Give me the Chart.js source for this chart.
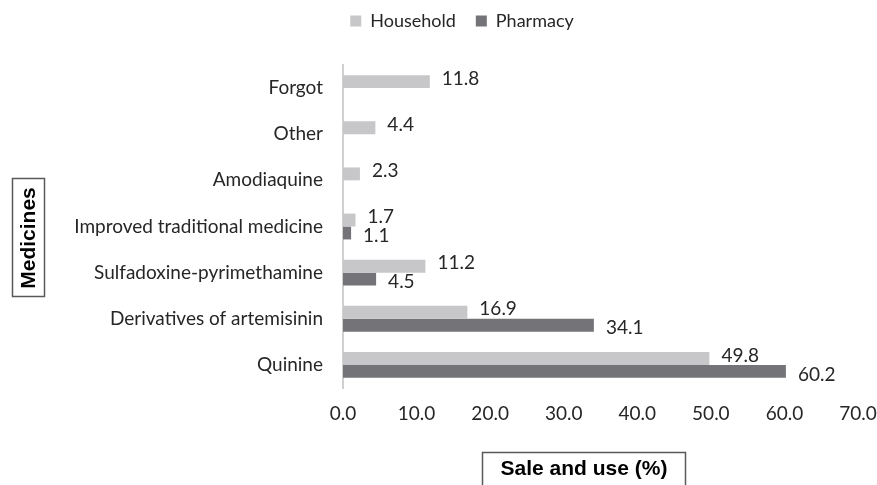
<!DOCTYPE html>
<html>
<head>
<meta charset="utf-8">
<script src="https://cdn.jsdelivr.net/npm/chart.js@4.4.1/dist/chart.umd.min.js"></script>
<style>
  html, body { margin: 0; padding: 0; background: #fff; }
  #wrap { width: 877px; height: 485px; position: relative; }
</style>
</head>
<body>
<div id="wrap"><canvas id="chart"></canvas></div>
<script>
const categories = [
  "Forgot",
  "Other",
  "Amodiaquine",
  "Improved traditional medicine",
  "Sulfadoxine-pyrimethamine",
  "Derivatives of artemisinin",
  "Quinine"
]
const household = [11.8, 4.4, 2.3, 1.7, 11.2, 16.9, 49.8]
const pharmacy = [null, null, null, 1.1, 4.5, 34.1, 60.2]
const xTicks = [0, 10, 20, 30, 40, 50, 60, 70]

const family = "Lato, 'Open Sans', sans-serif"
const labelFont = "19px " + family

// value labels at the end of each bar
const valueLabels = {
  id: "valueLabels",
  afterDatasetsDraw(chart) {
    const { ctx } = chart
    ctx.save()
    ctx.font = labelFont
    ctx.fillStyle = "#262626"
    ctx.textAlign = "left"
    ctx.textBaseline = "middle"
    chart.data.datasets.forEach((ds, i) => {
      chart.getDatasetMeta(i).data.forEach((bar, j) => {
        const v = ds.data[j]
        if (v == null) return
        const dy = i === 0 ? -3 : 3
        ctx.fillText(v.toFixed(1), bar.x + 12, bar.y + dy)
      })
    })
    ctx.restore()
  }
}

// boxed axis titles like the original
const boxedTitles = {
  id: "boxedTitles",
  afterDraw(chart) {
    const { ctx } = chart
    ctx.save()
    ctx.strokeStyle = "#595959"
    ctx.lineWidth = 1.5
    ctx.fillStyle = "#000"
    ctx.font = "bold 21px 'Liberation Sans', Arial, sans-serif"
    ctx.textAlign = "center"
    ctx.textBaseline = "middle"

    ctx.strokeRect(482.5, 452.5, 203, 40)
    ctx.fillText("Sale and use (%)", 584, 469)

    ctx.strokeRect(12.5, 178.5, 32, 118)
    ctx.translate(29, 238)
    ctx.rotate(-Math.PI / 2)
    ctx.fillText("Medicines", 0, 0)
    ctx.restore()
  }
}

// extra space under the legend, and legend nudged right like the original
const legendMargin = {
  id: "legendMargin",
  beforeInit(chart) {
    const fit = chart.legend.fit
    chart.legend.fit = function () {
      fit.bind(chart.legend)()
      this.height += 25
    }
  },
  afterLayout(chart) {
    chart.legend.left += 33
    chart.legend.right += 33
  }
}

new Chart(document.getElementById("chart"), {
  type: "bar",
  data: {
    labels: categories,
    datasets: [
      {
        label: "Household",
        data: household,
        backgroundColor: "#c7c7c9",
        barPercentage: 1,
        categoryPercentage: 0.56
      },
      {
        label: "Pharmacy",
        data: pharmacy,
        backgroundColor: "#747478",
        barPercentage: 1,
        categoryPercentage: 0.56
      }
    ]
  },
  options: {
    indexAxis: "y",
    responsive: true,
    maintainAspectRatio: false,
    animation: false,
    layout: {
      padding: { left: 0, right: 19, top: -8, bottom: 0 }
    },
    plugins: {
      legend: {
        position: "top",
        labels: {
          boxWidth: 11,
          boxHeight: 11,
          padding: 20,
          color: "#262626",
          font: { family: family, size: 18 }
        }
      },
      tooltip: { enabled: false }
    },
    scales: {
      x: {
        min: 0,
        max: 70,
        afterBuildTicks: (scale) => {
          scale.ticks = xTicks.map(v => ({ value: v }))
        },
        grid: { display: false, drawTicks: false },
        border: { display: false },
        ticks: {
          padding: 14,
          color: "#262626",
          font: { family: family, size: 19 },
          callback: (v) => Number(v).toFixed(1)
        },
        afterFit: (scale) => {
          scale.height = 97
          scale.paddingLeft = 0
          scale.paddingRight = 0
        }
      },
      y: {
        grid: { display: false, drawTicks: false },
        border: { display: true, color: "#d0d0d0", width: 2 },
        ticks: {
          padding: 20,
          color: "#262626",
          font: { family: family, size: 19 }
        },
        afterFit: (scale) => { scale.width = 343 }
      }
    }
  },
  plugins: [valueLabels, boxedTitles, legendMargin]
})
</script>
</body>
</html>
